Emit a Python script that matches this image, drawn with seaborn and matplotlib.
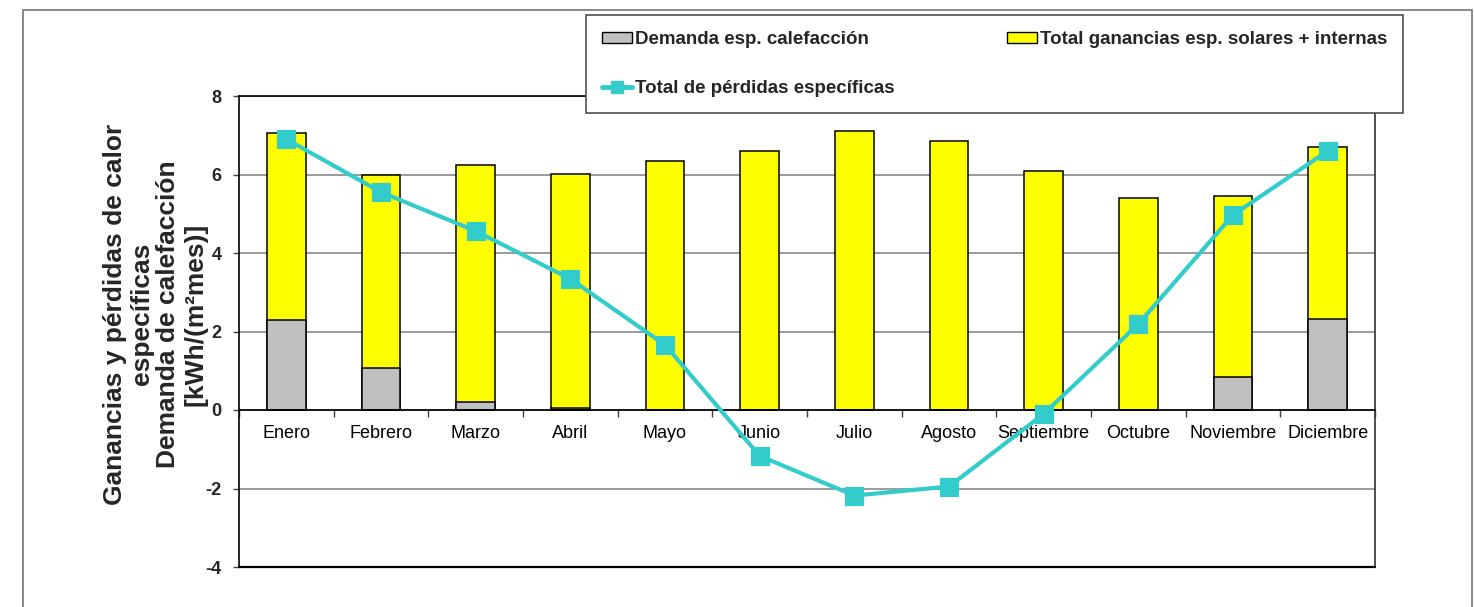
import numpy as np
import pandas as pd
import matplotlib
matplotlib.use("Agg")
import matplotlib.pyplot as plt
from matplotlib.patches import Patch, Rectangle
from matplotlib.lines import Line2D
import seaborn as sns

# Monthly values in kWh/(m²·mes)
meses = ["Enero", "Febrero", "Marzo", "Abril", "Mayo", "Junio", "Julio",
         "Agosto", "Septiembre", "Octubre", "Noviembre", "Diciembre"]
ganancias = [7.05, 6.00, 6.24, 6.02, 6.34, 6.61, 7.12, 6.86, 6.10, 5.39, 5.46, 6.69]
demanda = [2.29, 1.06, 0.21, 0.04, 0.0, 0.0, 0.0, 0.0, 0.0, 0.0, 0.85, 2.32]
perdidas = [6.90, 5.55, 4.56, 3.34, 1.66, -1.17, -2.18, -1.95, -0.10, 2.19, 4.97, 6.60]

lbl_demanda = "Demanda esp. calefacción"
lbl_ganancias = "Total ganancias esp. solares + internas"
lbl_perdidas = "Total de pérdidas específicas"
ylabel = "Ganancias y pérdidas de calor\nespecíficas\nDemanda de calefacción\n[kWh/(m²mes)]"

df = pd.DataFrame({"mes": meses, "ganancias": ganancias,
                   "demanda": demanda, "perdidas": perdidas})

sns.set_theme(style="white")
plt.rcParams["font.family"] = ["Liberation Sans", "DejaVu Sans"]
plt.rcParams["axes.unicode_minus"] = False

C_YELLOW = "#FFFF00"
C_GREY = "#C0C0C0"
C_LINE = "#33CCCC"

W, H = 1474, 607
fig = plt.figure(figsize=(W / 100, H / 100), dpi=100)
fig.patch.set_facecolor("white")
ax = fig.add_axes([239 / W, 40 / H, (1375 - 239) / W, (567 - 96) / H])

sns.barplot(data=df, x="mes", y="ganancias", color=C_YELLOW, saturation=1,
            width=0.41, edgecolor="black", linewidth=1.1, ax=ax, zorder=2)
sns.barplot(data=df, x="mes", y="demanda", color=C_GREY, saturation=1,
            width=0.41, edgecolor="black", linewidth=1.1, ax=ax, zorder=2)
sns.pointplot(data=df, x="mes", y="perdidas", color=C_LINE, markers="s",
              errorbar=None, linewidth=3, markersize=11.5, ax=ax, zorder=4)

ax.set_ylim(-4, 8)
ax.set_xlim(-0.5, len(meses) - 0.5)
ax.set_yticks(np.arange(-4, 9, 2))
ax.set_xlabel("")
ax.set_ylabel("")

ax.yaxis.grid(True, color="#808080", linewidth=1.1)
ax.set_axisbelow(True)

for side in ["top", "left", "right", "bottom"]:
    ax.spines[side].set_visible(True)
    ax.spines[side].set_color("black")
    ax.spines[side].set_linewidth(1.2)
ax.spines["right"].set_color("#303030")
ax.spines["bottom"].set_position(("data", 0))
ax.axhline(-4, color="black", linewidth=1.6, zorder=5, clip_on=False)

ax.set_xticks(np.arange(-0.5, len(meses), 1), minor=True)
ax.tick_params(axis="x", which="major", length=0, pad=10.5, labelsize=13,
               labelcolor="black")
ax.tick_params(axis="x", which="minor", length=5, width=1, direction="out",
               color="#404040", bottom=True)
ax.tick_params(axis="y", which="major", length=4.5, width=1, direction="out",
               left=True, pad=8, labelsize=13, color="#404040")
for t in ax.get_yticklabels():
    t.set_fontweight("bold")

fig.text(155 / W, 1 - 314 / H, ylabel, rotation=90, ha="center", va="center",
         multialignment="center", fontsize=19, fontweight="bold",
         linespacing=1.15)

handles = [Patch(facecolor=C_GREY, edgecolor="black", linewidth=1),
           Line2D([], [], color=C_LINE, linewidth=3.5, marker="s", markersize=9),
           Patch(facecolor=C_YELLOW, edgecolor="black", linewidth=1)]
labels = [lbl_demanda, lbl_perdidas, lbl_ganancias]
leg = fig.legend(handles, labels, loc="upper left",
                 bbox_to_anchor=(586 / W, 1 - 15 / H), ncol=2,
                 frameon=True, fancybox=False, shadow=False,
                 prop={"weight": "bold", "size": 13.5},
                 handlelength=1.6, handleheight=0.55, handletextpad=0.15,
                 columnspacing=6.0, labelspacing=1.7, borderpad=0.85,
                 borderaxespad=0)
leg.get_frame().set_edgecolor("#505050")
leg.get_frame().set_linewidth(1.2)
leg.get_frame().set_facecolor("white")
leg.get_frame().set_alpha(1)

fig.add_artist(Rectangle((23 / W, -0.05), (1472 - 23) / W, 1.05 - 10 / H,
                         transform=fig.transFigure, fill=False,
                         edgecolor="#808080", linewidth=1.3))

fig.savefig("out.png", dpi=100)
